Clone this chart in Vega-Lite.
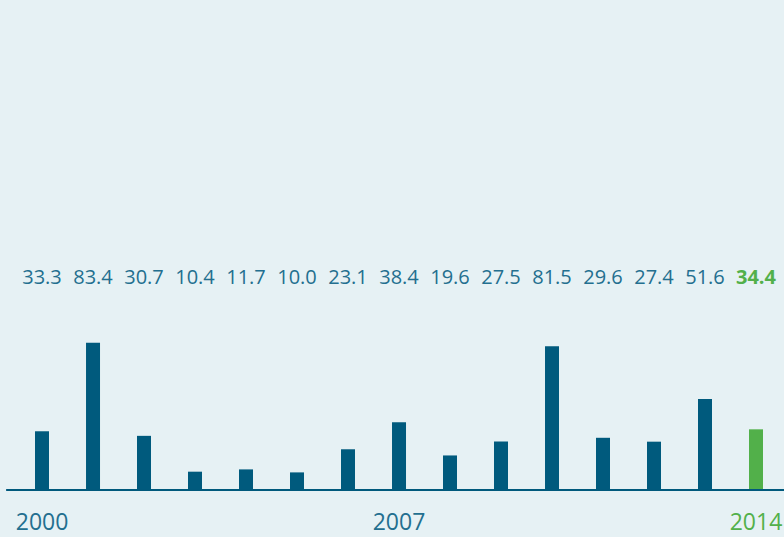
{
  "$schema": "https://vega.github.io/schema/vega-lite/v6.json",
  "width": 784,
  "height": 537,
  "padding": 0,
  "autosize": "none",
  "background": "#e6f1f4",
  "config": {"view": {"stroke": null}},
  "data": {"values": [
    {"year": 2000, "value": 33.3},
    {"year": 2001, "value": 83.4},
    {"year": 2002, "value": 30.7},
    {"year": 2003, "value": 10.4},
    {"year": 2004, "value": 11.7},
    {"year": 2005, "value": 10.0},
    {"year": 2006, "value": 23.1},
    {"year": 2007, "value": 38.4},
    {"year": 2008, "value": 19.6},
    {"year": 2009, "value": 27.5},
    {"year": 2010, "value": 81.5},
    {"year": 2011, "value": 29.6},
    {"year": 2012, "value": 27.4},
    {"year": 2013, "value": 51.6},
    {"year": 2014, "value": 34.4}
  ]},
  "layer": [
    {
      "mark": {"type": "bar", "size": 14},
      "encoding": {
        "x": {"field": "year", "type": "quantitative", "scale": {"domain": [1999.176, 2014.549], "nice": false, "zero": false, "padding": 0}, "axis": null},
        "y": {"field": "value", "type": "quantitative", "scale": {"domain": [-26.6, 277.6], "nice": false, "zero": false}, "axis": null},
        "y2": {"datum": 0},
        "color": {"condition": {"test": "datum.year == 2014", "value": "#52b04a"}, "value": "#005a7d"}
      }
    },
    {
      "mark": {"type": "rule", "color": "#005a7d", "strokeWidth": 1.5},
      "encoding": {
        "x": {"datum": 1999.31, "type": "quantitative"},
        "x2": {"datum": 2014.549},
        "y": {"datum": 0, "type": "quantitative"}
      }
    },
    {
      "transform": [{"filter": "datum.year != 2014"}],
      "mark": {"type": "text", "font": "Open Sans", "fontSize": 20, "baseline": "middle", "align": "center", "color": "#236f8f"},
      "encoding": {
        "x": {"field": "year", "type": "quantitative"},
        "y": {"datum": 120.1, "type": "quantitative"},
        "text": {"field": "value", "type": "quantitative", "format": ".1f"}
      }
    },
    {
      "transform": [{"filter": "datum.year == 2014"}],
      "mark": {"type": "text", "font": "Open Sans", "fontSize": 20, "fontWeight": "bold", "baseline": "middle", "align": "center", "color": "#52b04a"},
      "encoding": {
        "x": {"field": "year", "type": "quantitative"},
        "y": {"datum": 120.1, "type": "quantitative"},
        "text": {"field": "value", "type": "quantitative", "format": ".1f"}
      }
    },
    {
      "transform": [{"filter": "datum.year == 2000 || datum.year == 2007 || datum.year == 2014"}],
      "mark": {"type": "text", "font": "Open Sans", "fontSize": 23, "baseline": "middle", "align": "center"},
      "encoding": {
        "x": {"field": "year", "type": "quantitative"},
        "y": {"datum": -18.7, "type": "quantitative"},
        "text": {"field": "year", "type": "nominal"},
        "color": {"condition": {"test": "datum.year == 2014", "value": "#52b04a"}, "value": "#236f8f"}
      }
    }
  ]
}
